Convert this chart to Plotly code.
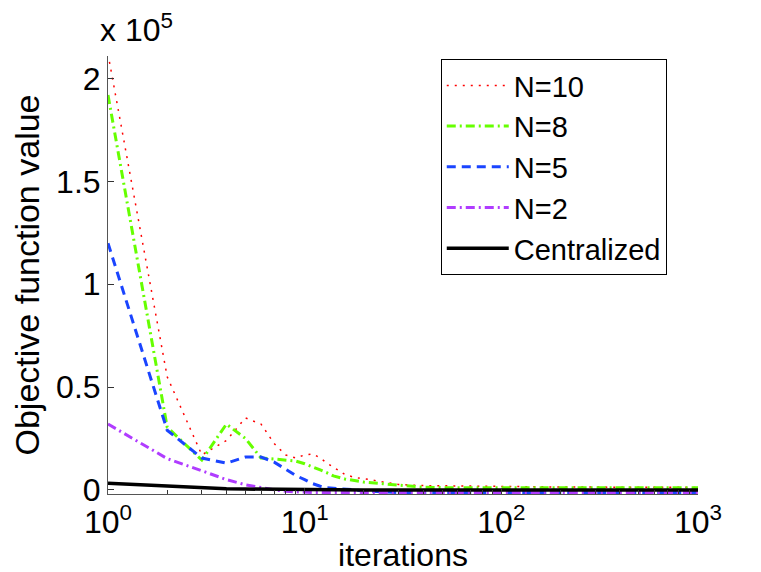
import plotly.graph_objects as go

# iterations at which the curves were read
iters = [1, 2, 3, 4, 5, 6, 7, 8, 9, 10, 11, 12, 13, 14, 16, 18, 20, 25, 30, 40, 50, 70, 100, 200, 500, 1000]

# objective values, in units of 1e5
n10 = [2.12, 0.55, 0.17, 0.24, 0.35, 0.32, 0.225, 0.17, 0.155, 0.17, 0.175, 0.155, 0.13, 0.11,
       0.075, 0.06, 0.055, 0.039, 0.026, 0.021, 0.02, 0.018, 0.016, 0.014, 0.013, 0.012]
n8 = [1.92, 0.305, 0.145, 0.32, 0.25, 0.155, 0.15, 0.146, 0.14, 0.127, 0.113, 0.097, 0.083, 0.068,
      0.053, 0.045, 0.038, 0.03, 0.022, 0.013, 0.011, 0.011, 0.011, 0.011, 0.011, 0.011]
n5 = [1.2, 0.29, 0.155, 0.13, 0.16, 0.16, 0.135, 0.1, 0.07, 0.05, 0.03, 0.018, 0.01, 0.008,
      0.005, 0.0, -0.005, -0.01, -0.013, -0.013, -0.013, -0.013, -0.013, -0.013, -0.013, -0.013]
n2 = [0.32, 0.152, 0.093, 0.05, 0.025, 0.01, 0.0, -0.007, -0.01, -0.012, -0.013, -0.013, -0.013, -0.013,
      -0.013, -0.013, -0.013, -0.013, -0.013, -0.013, -0.013, -0.013, -0.013, -0.013, -0.013, -0.013]
central = [0.032, 0.018, 0.01, 0.006, 0.004, 0.003, 0.002, 0.0015, 0.001, 0.001, 0.0008, 0.0006, 0.0005, 0.0004,
           0.0003, 0.0002, 0.0, 0.0, 0.0, 0.0, 0.0, 0.0, 0.0, 0.0, 0.0, 0.0]

names = ["N=10", "N=8", "N=5", "N=2", "Centralized"]
scale = 1e5

y_ticks = [0, 0.5, 1, 1.5, 2]
y_ticklabels = ["0", "0.5", "1", "1.5", "2"]
x_ticks = [1, 10, 100, 1000]
x_ticklabels = ["10<sup>0</sup>", "10<sup>1</sup>", "10<sup>2</sup>", "10<sup>3</sup>"]
x_minor = [m * d for d in (1, 10, 100) for m in range(2, 10)]

styles = [
    dict(color="#FF0000", width=1.5, dash="2px,6px"),
    dict(color="#66FF00", width=3, dash="9px,4px,2px,4px"),
    dict(color="#1A44FF", width=3, dash="9px,6px"),
    dict(color="#B03CFF", width=3, dash="9px,4px,2px,4px"),
    dict(color="#000000", width=3.5),
]

fig = go.Figure()
for name, vals, st in zip(names, [n10, n8, n5, n2, central], styles):
    fig.add_trace(go.Scatter(x=iters, y=[v * scale for v in vals], mode="lines",
                             name=name, line=st))

family = "Liberation Sans, Arial, sans-serif"
font = dict(family=family, size=32, color="black")
ytitle_font = dict(family=family, size=34, color="black")
legend_font = dict(family=family, size=29, color="black")

fig.update_layout(
    width=761, height=572,
    margin=dict(l=100, r=71, t=48, b=86),
    paper_bgcolor="white", plot_bgcolor="white",
    font=font,
    showlegend=True,
    legend=dict(x=0.564, y=0.993, xanchor="left", yanchor="top",
                bgcolor="white", bordercolor="black", borderwidth=1,
                itemwidth=62, tracegroupgap=0, font=legend_font),
    annotations=[dict(text="x 10<sup>5</sup>", xref="paper", yref="paper",
                      x=0, y=1, xanchor="left", yanchor="bottom",
                      showarrow=False, font=font, xshift=-10, yshift=6)],
)

fig.update_xaxes(type="log", range=[0, 3], tickvals=x_ticks, ticktext=x_ticklabels,
                 ticks="inside", ticklen=6, tickcolor="#333", showline=True,
                 linecolor="#555", linewidth=1, showgrid=False, zeroline=False,
                 minor=dict(tickvals=x_minor, ticks="inside", ticklen=4, tickcolor="#333", showgrid=False),
                 title=dict(text="iterations", font=font, standoff=4))
fig.update_yaxes(range=[-0.02 * scale, 2.11 * scale], tickvals=[t * scale for t in y_ticks],
                 ticktext=y_ticklabels, ticks="inside", ticklen=6, tickcolor="#333",
                 showline=True, linecolor="#555", linewidth=1, showgrid=False, zeroline=False,
                 title=dict(text="Objective function value", font=ytitle_font, standoff=13))

fig.write_html("out.html")
